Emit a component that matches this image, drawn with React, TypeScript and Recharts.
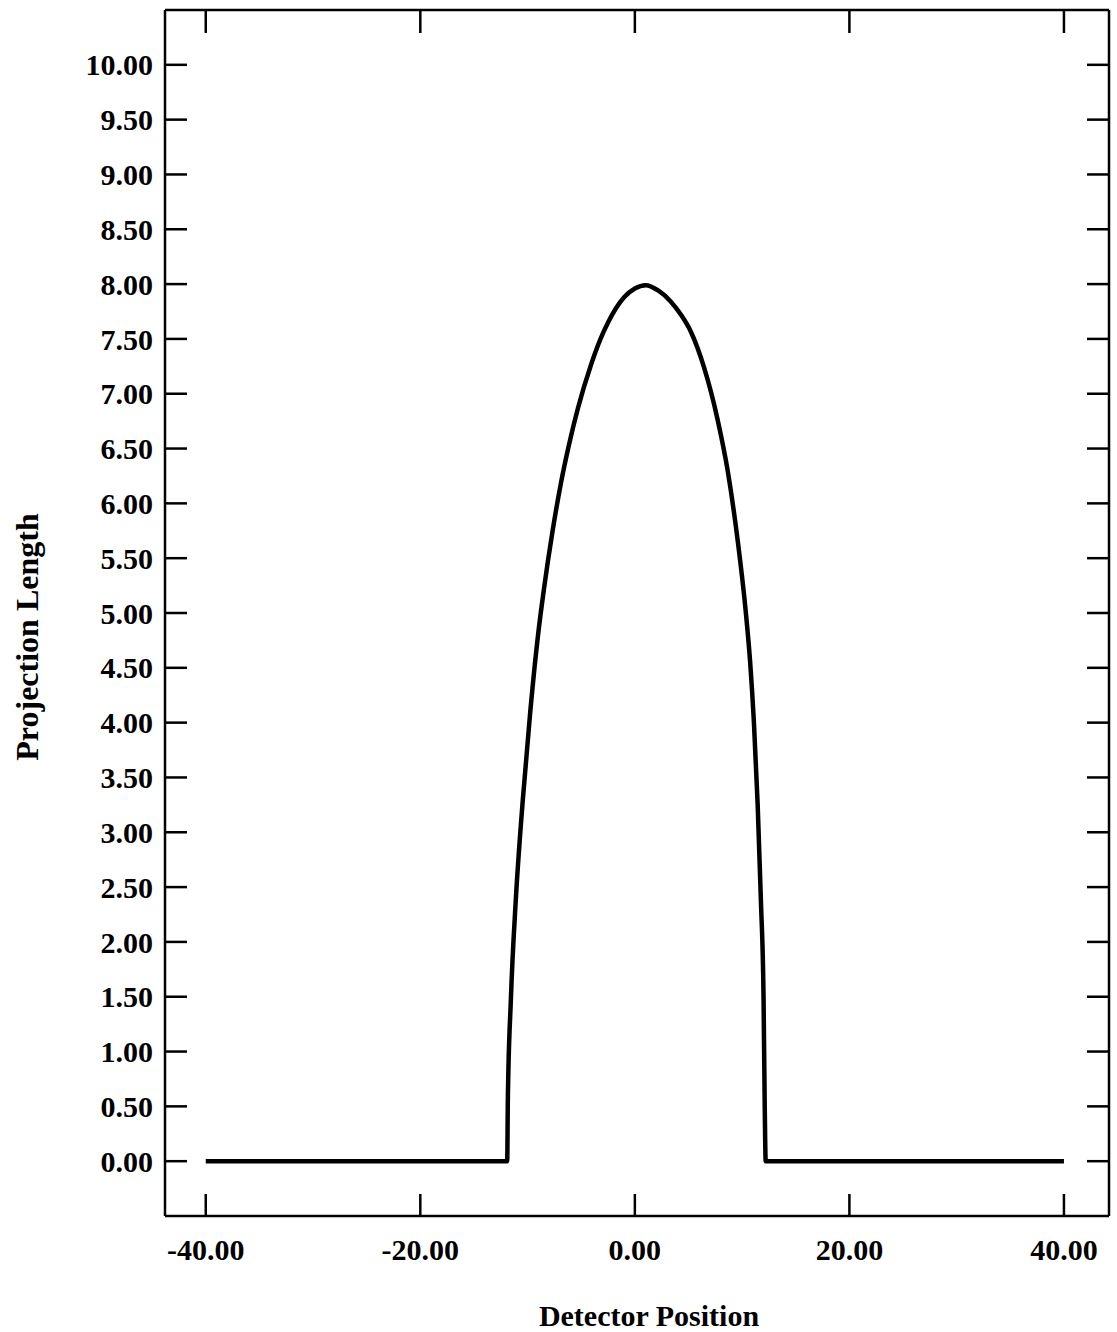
import { LineChart, Line, XAxis, YAxis, Label } from "recharts";

// values
const detectorPositions = [
  -40, -11.9, -11.84, -11.56, -11.1, -10.45, -9.75, -9.0, -8.5, -7.65, -6.9, -6.15, -5.3, -4.1, -3.2,
  -2.5, -1.0, 0.0, 1.0, 2.2, 3.36, 4.3, 5.2, 6.45, 7.7, 8.65, 9.6, 10.35, 10.75, 11.1, 11.45, 11.75,
  12.0, 12.1, 12.2, 40,
];
const projectionLengths = [
  0, 0, 0.56, 1.47, 2.38, 3.29, 4.1, 4.82, 5.2, 5.76, 6.18, 6.53, 6.87, 7.26, 7.5,
  7.65, 7.88, 7.96, 7.99, 7.94, 7.84, 7.72, 7.57, 7.24, 6.77, 6.3, 5.65, 5.0, 4.55, 4.0, 3.25, 2.38,
  1.47, 0.56, 0, 0,
];
const xTicks = [-40, -20, 0, 20, 40];
const yTicks = [0, 0.5, 1, 1.5, 2, 2.5, 3, 3.5, 4, 4.5, 5, 5.5, 6, 6.5, 7, 7.5, 8, 8.5, 9, 9.5, 10];

const data = detectorPositions.map((x, i) => ({ x, length: projectionLengths[i] }));

const xDomain: [number, number] = [-43.8, 44.2];
const yDomain: [number, number] = [-0.5, 10.5];

const font = "'Liberation Serif', 'Times New Roman', serif";
const tickStyle = { fill: "#000", fontSize: 30, fontFamily: font, fontWeight: 700 };
const frame = { stroke: "#000", strokeWidth: 2.5 };
const markLine = { stroke: "#000", strokeWidth: 2.5 };
const fmt = (v: number) => v.toFixed(2);
const noLabel = () => <g />;

function YTitle({ viewBox }: { viewBox?: { x: number; y: number; width: number; height: number } }) {
  if (!viewBox) return null;
  const cx = viewBox.x + 27;
  const cy = viewBox.y + viewBox.height / 2 + 24;
  return (
    <text
      x={cx}
      y={cy}
      transform={`rotate(-90 ${cx} ${cy})`}
      textAnchor="middle"
      dominantBaseline="central"
      fill="#000"
      fontSize={32}
      fontFamily={font}
      fontWeight={700}
    >
      Projection Length
    </text>
  );
}

export default function App() {
  return (
    <div style={{ position: "absolute", left: 0, top: 0, width: 1117, height: 1332, background: "#fff" }}>
      <LineChart width={1117} height={1332} data={data} margin={{ top: 10, right: 8, bottom: 0, left: 0 }}>
        {/* bottom axis with labels */}
        <XAxis
          xAxisId="bottom"
          dataKey="x"
          type="number"
          domain={xDomain}
          ticks={xTicks}
          interval={0}
          tickFormatter={fmt}
          tick={tickStyle}
          tickLine={false}
          tickSize={0}
          tickMargin={23}
          axisLine={frame}
          height={116}
        >
          <Label
            value="Detector Position"
            position="insideBottom"
            offset={6}
            dx={12}
            style={{ fill: "#000", fontSize: 30, fontFamily: font, fontWeight: 700 }}
          />
        </XAxis>
        {/* inward tick marks on the bottom */}
        <XAxis
          xAxisId="bottomTicks"
          dataKey="x"
          type="number"
          domain={xDomain}
          ticks={xTicks}
          interval={0}
          mirror
          tick={noLabel}
          tickSize={22}
          tickLine={markLine}
          axisLine={false}
        />
        {/* top frame with inward ticks */}
        <XAxis
          xAxisId="top"
          orientation="top"
          dataKey="x"
          type="number"
          domain={xDomain}
          ticks={xTicks}
          interval={0}
          mirror
          tick={noLabel}
          tickSize={23}
          tickLine={markLine}
          axisLine={frame}
        />
        {/* left axis with labels */}
        <YAxis
          yAxisId="left"
          dataKey="length"
          type="number"
          domain={yDomain}
          ticks={yTicks}
          interval={0}
          tickFormatter={fmt}
          tick={tickStyle}
          tickLine={false}
          tickSize={0}
          tickMargin={12}
          axisLine={frame}
          width={165}
        >
          <Label content={<YTitle />} />
        </YAxis>
        {/* inward tick marks on the left */}
        <YAxis
          yAxisId="leftTicks"
          dataKey="length"
          type="number"
          domain={yDomain}
          ticks={yTicks}
          interval={0}
          mirror
          tick={noLabel}
          tickSize={22}
          tickLine={markLine}
          axisLine={false}
        />
        {/* right frame with inward ticks */}
        <YAxis
          yAxisId="right"
          orientation="right"
          dataKey="length"
          type="number"
          domain={yDomain}
          ticks={yTicks}
          interval={0}
          mirror
          tick={noLabel}
          tickSize={22}
          tickLine={markLine}
          axisLine={frame}
        />
        <Line
          xAxisId="bottom"
          yAxisId="left"
          type="monotone"
          dataKey="length"
          stroke="#000"
          strokeWidth={4.5}
          dot={false}
          activeDot={false}
          isAnimationActive={false}
        />
      </LineChart>
    </div>
  );
}
